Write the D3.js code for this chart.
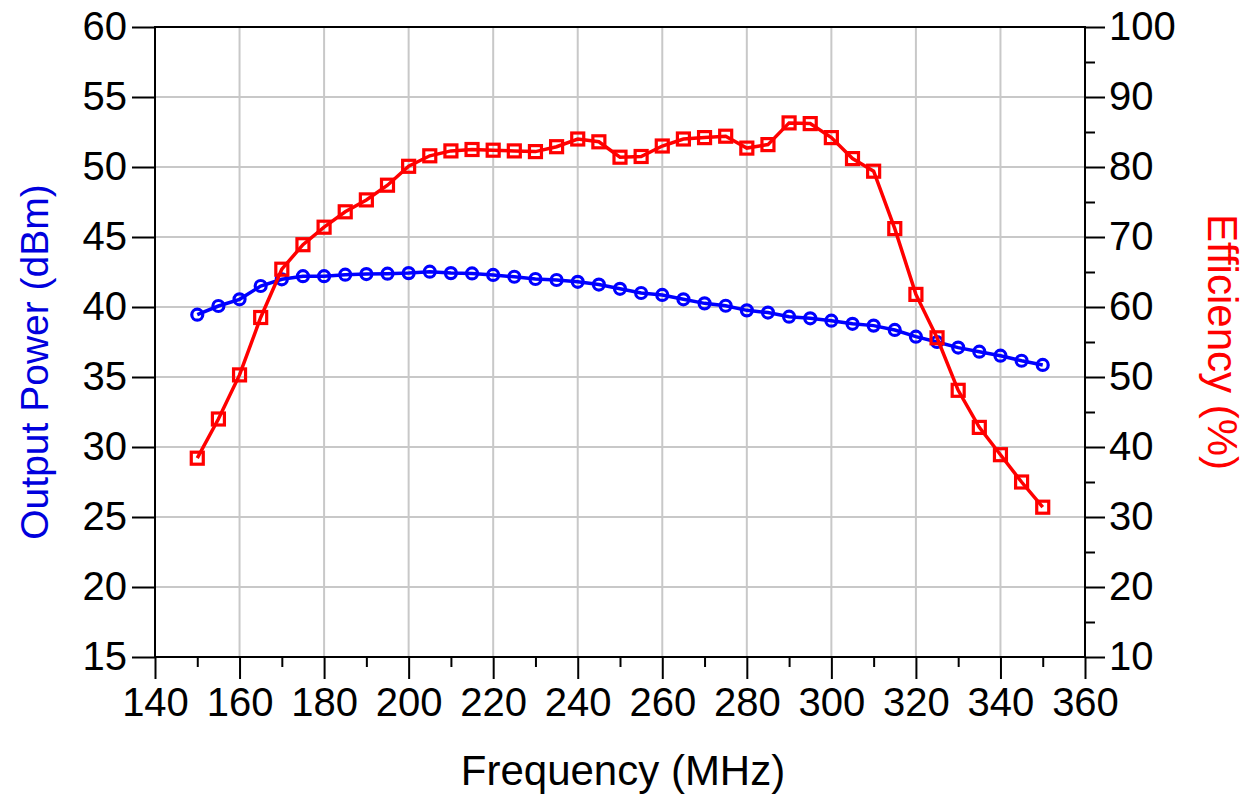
<!DOCTYPE html>
<html>
<head>
<meta charset="utf-8">
<script src="https://cdn.jsdelivr.net/npm/d3@7"></script>
<style>
  body { margin: 0; background: #fff; }
  text { font-family: "Liberation Sans", Arial, sans-serif; }
</style>
</head>
<body>
<div id="chart"></div>
<script>
// Chart data
const freq = d3.range(150, 351, 5);
const power = [39.45, 40.07, 40.55, 41.5, 41.98, 42.2, 42.2, 42.31, 42.35, 42.38, 42.42,
  42.52, 42.42, 42.4, 42.29, 42.16, 42.0, 41.93, 41.8, 41.6, 41.3, 41.0, 40.86, 40.55,
  40.26, 40.09, 39.76, 39.6, 39.31, 39.19, 39.02, 38.8, 38.67, 38.36, 37.88, 37.5,
  37.1, 36.81, 36.52, 36.16, 35.86];
const efficiency = [38.4, 44.0, 50.3, 58.5, 65.4, 68.9, 71.4, 73.6, 75.3, 77.4, 80.1,
  81.6, 82.3, 82.5, 82.4, 82.3, 82.2, 82.9, 84.0, 83.6, 81.4, 81.5, 83.0, 84.0,
  84.2, 84.4, 82.7, 83.2, 86.3, 86.2, 84.2, 81.2, 79.4, 71.2, 61.8, 55.6,
  48.1, 42.8, 38.9, 35.0, 31.4];

const xTicks = d3.range(140, 361, 20);
const leftTicks = d3.range(15, 61, 5);
const rightTicks = d3.range(10, 101, 10);

const width = 1249;
const height = 796;
const plotL = 155, plotR = 1085, plotT = 27, plotB = 657;

const svg = d3.select("#chart")
  .append("svg")
  .attr("width", width)
  .attr("height", height);

// Scales
const x = d3.scaleLinear().domain([140, 360]).range([plotL, plotR]);
const yL = d3.scaleLinear().domain([15, 60]).range([plotB, plotT]);
const yR = d3.scaleLinear().domain([10, 100]).range([plotB, plotT]);

// Grid
const grid = svg.append("g").attr("stroke", "#c8c8c8").attr("stroke-width", 2);
grid.selectAll(".vg")
  .data(xTicks.slice(1, -1))
  .enter()
  .append("line")
  .attr("x1", (d) => x(d)).attr("x2", (d) => x(d))
  .attr("y1", plotT).attr("y2", plotB);
grid.selectAll(".hg")
  .data(leftTicks.slice(1, -1))
  .enter()
  .append("line")
  .attr("x1", plotL).attr("x2", plotR)
  .attr("y1", (d) => yL(d)).attr("y2", (d) => yL(d));

// Axes
function styleAxis(g) {
  g.select(".domain").remove();
  g.selectAll("line").attr("stroke", "#000").attr("stroke-width", 2);
  g.selectAll("text").attr("font-size", 40).attr("fill", "#000")
    .attr("font-family", "Liberation Sans, Arial, sans-serif");
}

svg.append("g")
  .attr("transform", `translate(0, ${plotB})`)
  .call(d3.axisBottom(x).tickValues(d3.range(150, 360, 20)).tickSize(10).tickFormat(""))
  .call(styleAxis);
svg.append("g")
  .attr("transform", `translate(0, ${plotB})`)
  .call(d3.axisBottom(x).tickValues(xTicks).tickSize(22).tickPadding(9).tickFormat(d3.format("d")))
  .call(styleAxis);

svg.append("g")
  .attr("transform", `translate(${plotL}, 0)`)
  .call(d3.axisLeft(yL).tickValues(leftTicks).tickSize(23).tickPadding(5).tickFormat(d3.format("d")))
  .call(styleAxis);

svg.append("g")
  .attr("transform", `translate(${plotR}, 0)`)
  .call(d3.axisRight(yR).tickValues(d3.range(15, 100, 10)).tickSize(10).tickFormat(""))
  .call(styleAxis);
svg.append("g")
  .attr("transform", `translate(${plotR}, 0)`)
  .call(d3.axisRight(yR).tickValues(rightTicks).tickSize(20).tickPadding(4).tickFormat(d3.format("d")))
  .call(styleAxis);

// Frame
svg.append("rect")
  .attr("x", plotL).attr("y", plotT)
  .attr("width", plotR - plotL).attr("height", plotB - plotT)
  .attr("fill", "none").attr("stroke", "#000").attr("stroke-width", 2);

// Series
const powerLine = d3.line().x((d, i) => x(freq[i])).y((d) => yL(d));
const effLine = d3.line().x((d, i) => x(freq[i])).y((d) => yR(d));

svg.append("path")
  .datum(power)
  .attr("d", powerLine)
  .attr("fill", "none").attr("stroke", "#0000ff").attr("stroke-width", 3.5);

svg.selectAll(".pdot")
  .data(power)
  .enter()
  .append("circle")
  .attr("class", "pdot")
  .attr("cx", (d, i) => x(freq[i]))
  .attr("cy", (d) => yL(d))
  .attr("r", 5.5)
  .attr("fill", "none").attr("stroke", "#0000ff").attr("stroke-width", 3.2);

svg.append("path")
  .datum(efficiency)
  .attr("d", effLine)
  .attr("fill", "none").attr("stroke", "#ff0000").attr("stroke-width", 3.5);

svg.selectAll(".edot")
  .data(efficiency)
  .enter()
  .append("rect")
  .attr("class", "edot")
  .attr("x", (d, i) => x(freq[i]) - 6)
  .attr("y", (d) => yR(d) - 6)
  .attr("width", 12).attr("height", 12)
  .attr("fill", "none").attr("stroke", "#ff0000").attr("stroke-width", 3.2);

// Axis titles
svg.append("text")
  .attr("x", (plotL + plotR) / 2 + 3)
  .attr("y", 785)
  .attr("text-anchor", "middle")
  .attr("font-size", 42)
  .text("Frequency (MHz)");

svg.append("text")
  .attr("transform", `translate(48, 362) rotate(-90)`)
  .attr("text-anchor", "middle")
  .attr("font-size", 39)
  .attr("fill", "#0000dd")
  .text("Output Power (dBm)");

svg.append("text")
  .attr("transform", `translate(1208, 342) rotate(90)`)
  .attr("text-anchor", "middle")
  .attr("font-size", 42)
  .attr("fill", "#ff0000")
  .text("Efficiency (%)");
</script>
</body>
</html>
